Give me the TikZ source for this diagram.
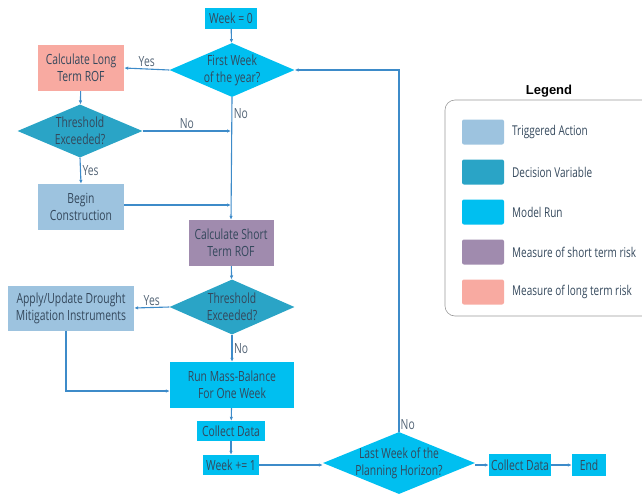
\documentclass[tikz,border=0pt]{standalone}
\usepackage{fontspec}
\setmainfont[FakeStretch=0.74]{Open Sans}
\newfontfamily\legendfont{Liberation Sans}
\usetikzlibrary{shapes.geometric,arrows.meta}

\definecolor{txt}{HTML}{34485C}
\definecolor{arr}{HTML}{3D8BC9}
\definecolor{trig}{HTML}{9DC3DF}
\definecolor{decision}{HTML}{2AA4C6}
\definecolor{modelrun}{HTML}{00BFF0}
\definecolor{shortrisk}{HTML}{A08BAE}
\definecolor{longrisk}{HTML}{F8AAA1}

\tikzset{
  box/.style={rectangle, inner sep=0pt, align=center, text=txt,
    font=\fontsize{14}{17}\selectfont},
  actbox/.style={box, fill=trig},
  runbox/.style={box, fill=modelrun},
  shortbox/.style={box, fill=shortrisk},
  longbox/.style={box, fill=longrisk},
  choice/.style={diamond, inner sep=-4pt, align=center, text=txt,
    font=\fontsize{14}{17}\selectfont},
  flow/.style={draw=arr, line width=1.1pt, -{Latex[length=4pt,width=3.5pt]}},
  lbl/.style={text=txt!85, font=\fontsize{14}{17}\selectfont, inner sep=1.5pt},
}

\begin{document}
\begin{tikzpicture}[x=1pt, y=-1pt]

  %% ==== nodes ====
  \node[runbox, minimum width=52, minimum height=21] (week0) at (231,18) {Week = 0};
  \node[choice, fill=modelrun, minimum width=125, minimum height=54, aspect=2.3] (first) at (232,70) {First Week\\of the year?};
  \node[longbox, minimum width=86, minimum height=46] (longrof) at (81,68) {Calculate Long\\Term ROF};
  \node[choice, fill=decision, minimum width=125, minimum height=53, aspect=2.3] (thr1) at (80,131) {Threshold\\Exceeded?};
  \node[actbox, minimum width=86, minimum height=46] (build) at (81,207) {Begin\\Construction};
  \coordinate (j1) at (231,131);
  \coordinate (j2) at (231,205);
  \node[shortbox, minimum width=85, minimum height=46] (shortrof) at (231,243) {Calculate Short\\Term ROF};
  \node[choice, fill=decision, minimum width=125, minimum height=55, aspect=2.3] (thr2) at (232,307) {Threshold\\Exceeded?};
  \node[actbox, minimum width=126, minimum height=45] (apply) at (71,308) {Apply/Update Drought\\Mitigation Instruments};
  \node[runbox, minimum width=124, minimum height=46] (run) at (232,385) {Run Mass-Balance\\For One Week};
  \node[runbox, minimum width=68, minimum height=20] (coll1) at (231,431) {Collect Data};
  \node[runbox, minimum width=56, minimum height=20] (week1) at (231,465) {Week += 1};
  \node[choice, fill=modelrun, minimum width=152, minimum height=62, aspect=2.45] (last) at (399,463) {Last Week of the\\Planning Horizon?};
  \node[runbox, minimum width=62, minimum height=22] (coll2) at (520,465) {Collect Data};
  \node[runbox, minimum width=34, minimum height=22] (endn) at (589,465) {End};

  %% ==== connectors ====
  \draw[flow] (week0) -- (first);
  \draw[flow] (first.west) -- (longrof.east) node[lbl, midway, above] {Yes};
  \draw[flow] (longrof) -- (thr1);
  \draw[flow] (thr1.south) -- (build.north) node[lbl, midway, right] {Yes};
  \draw[flow] (thr1.east) -- (j1) node[lbl, midway, above] {No};
  \draw[flow] (build.east |- j2) -- (j2);
  \draw[flow] (first.south) -- (shortrof.north) node[lbl, pos=0.13, right] {No};
  \draw[flow] (shortrof) -- (thr2);
  \draw[flow] (thr2.west) -- (apply.east) node[lbl, midway, above] {Yes};
  \draw[flow] (thr2.south) -- (run.north) node[lbl, midway, right] {No};
  \draw[flow] ([xshift=-5pt]apply.south) |- ([yshift=-6pt]run.west);
  \draw[flow] (run) -- (coll1);
  \draw[flow] (coll1) -- (week1);
  \draw[flow] (week1.east) -- (last.west |- week1.east);
  \draw[flow] (last.east |- coll2.west) -- (coll2.west);
  \draw[flow] (coll2) -- (endn);
  \draw[flow] (last.north) |- (first.east);
  \node[lbl, anchor=south west] (nolast) at (last.north) {No};

  %% ==== legend ====
  \node[font=\legendfont\bfseries\fontsize{13}{15}\selectfont] (legtitle) at (549,91) {Legend};
  \draw[gray!80, line width=0.6pt, rounded corners=10pt] (445,100) rectangle (670,316);
  \foreach \col/\txt [count=\i] in {trig/Triggered Action, decision/Decision Variable,
      modelrun/Model Run, shortrisk/Measure of short term risk, longrisk/Measure of long term risk}
  {
    \node[fill=\col, rounded corners=2pt, minimum width=42, minimum height=25, inner sep=0pt]
      (sw\i) at (483,{92+40*\i}) {};
    \node[anchor=west, text=txt, font=\fontsize{13.5}{16}\selectfont, inner sep=0pt]
      (lt\i) at (512,{92+40*\i}) {\txt};
  }

  \pgfresetboundingbox
  \path[use as bounding box] (0,0) rectangle (642,493);
\end{tikzpicture}
\end{document}
